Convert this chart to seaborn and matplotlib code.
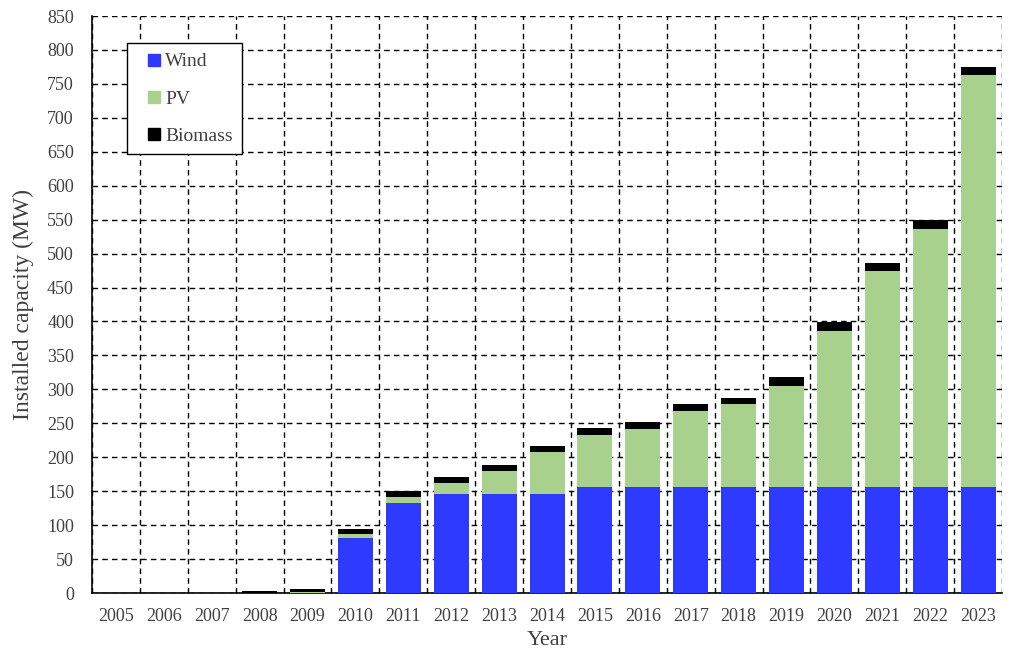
import numpy as np
import pandas as pd
import matplotlib
matplotlib.use("Agg")
import matplotlib.pyplot as plt
from matplotlib.lines import Line2D
import seaborn as sns

# Installed capacity by year (MW)
years = [str(y) for y in range(2005, 2024)]
wind = [0, 0, 0, 0, 0, 81, 133, 146, 146, 146, 156, 156, 156, 156, 156, 156, 156, 156, 156]
pv = [0, 0, 0, 0, 2, 6, 9, 16, 34, 62, 77, 86, 112, 122, 149, 230, 318, 380, 607]
biomass = [0, 0, 0, 3, 4, 7, 9, 9, 9, 9, 10, 10, 10, 10, 13, 13, 12, 13, 12]

df = pd.DataFrame({"Year": years, "Wind": wind, "PV": pv, "Biomass": biomass})
df["WindPV"] = df["Wind"] + df["PV"]
df["Total"] = df["WindPV"] + df["Biomass"]

c_wind = "#2E3BFF"
c_pv = "#A9D18E"
c_bio = "#000000"
txt = "#404040"

sns.set_style("white")
plt.rcParams["font.family"] = ["Liberation Serif", "DejaVu Serif"]

fig = plt.figure(figsize=(10.18, 6.64), dpi=100)
ax = fig.add_axes([0.0904, 0.1069, 0.8939, 0.869])

# stacked bars drawn as overlapping cumulative layers
bar_kw = dict(width=0.73, saturation=1, linewidth=0, edgecolor="none", ax=ax, zorder=3)
sns.barplot(data=df, x="Year", y="Total", color=c_bio, **bar_kw)
sns.barplot(data=df, x="Year", y="WindPV", color=c_pv, **bar_kw)
sns.barplot(data=df, x="Year", y="Wind", color=c_wind, **bar_kw)

ax.set_xlim(-0.5, len(years) - 0.5)
ax.set_ylim(0, 850)
ax.set_yticks(np.arange(0, 851, 50))
ax.set_xticks(np.arange(-0.5, len(years), 1), minor=True)

ax.grid(False)
ax.grid(axis="y", which="major", color="black", linestyle=(0, (4, 3)), linewidth=1, zorder=0)
ax.grid(axis="x", which="minor", color="black", linestyle=(0, (4, 3)), linewidth=1, zorder=0)

for s in ["top", "right"]:
    ax.spines[s].set_visible(False)
for s in ["left", "bottom"]:
    ax.spines[s].set_color("black")
    ax.spines[s].set_linewidth(1.2)

ax.tick_params(axis="x", which="both", length=0, labelsize=13, labelcolor=txt, pad=11)
ax.tick_params(axis="y", which="major", length=4, direction="in", labelsize=13, labelcolor=txt, pad=13)

ax.set_xlabel("Year", fontsize=16, color=txt, labelpad=4)
ax.set_ylabel("Installed capacity (MW)", fontsize=17, color=txt, labelpad=9)

handles = [
    Line2D([], [], marker="s", linestyle="none", markersize=8, color=c_wind),
    Line2D([], [], marker="s", linestyle="none", markersize=8, color=c_pv),
    Line2D([], [], marker="s", linestyle="none", markersize=8, color=c_bio),
]
leg = ax.legend(handles, ["Wind", "PV", "Biomass"], loc="upper left",
                bbox_to_anchor=(0.0385, 0.953), borderaxespad=0, fontsize=14,
                labelspacing=1.0, handlelength=1.8, handletextpad=-0.35,
                borderpad=0.5, fancybox=False, framealpha=1, edgecolor="black")
leg.get_frame().set_linewidth(1)
for t in leg.get_texts():
    t.set_color(txt)

fig.savefig("out.png", dpi=100)
